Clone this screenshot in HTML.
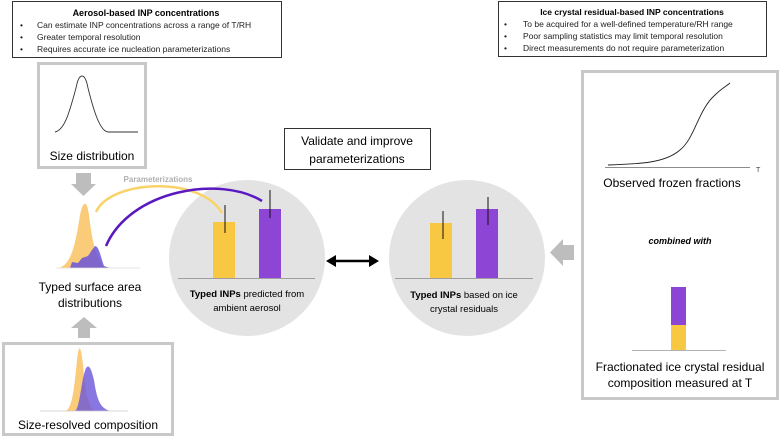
<!DOCTYPE html>
<html><head><meta charset="utf-8"><style>
html,body{margin:0;padding:0;background:#fff}
svg{display:block;font-family:"Liberation Sans",sans-serif}
</style></head><body>
<svg width="780" height="437" viewBox="0 0 780 437" xmlns="http://www.w3.org/2000/svg">
<rect x="12.5" y="1.5" width="269" height="56" fill="#fff" stroke="#333"/>
<text x="146" y="16" font-size="9" font-weight="bold" text-anchor="middle">Aerosol-based INP concentrations</text>
<g font-size="8.5" fill="#222">
<text x="20" y="28">•</text><text x="37" y="28">Can estimate INP concentrations across a range of T/RH</text>
<text x="20" y="40">•</text><text x="37" y="40">Greater temporal resolution</text>
<text x="20" y="52">•</text><text x="37" y="52">Requires accurate ice nucleation parameterizations</text>
</g>
<rect x="498.5" y="1.5" width="268" height="55" fill="#fff" stroke="#333"/>
<text x="632" y="15" font-size="8.5" font-weight="bold" text-anchor="middle">Ice crystal residual-based INP concentrations</text>
<g font-size="8.5" fill="#222">
<text x="504" y="27">•</text><text x="523" y="27">To be acquired for a well-defined temperature/RH range</text>
<text x="504" y="39">•</text><text x="523" y="39">Poor sampling statistics may limit temporal resolution</text>
<text x="504" y="51">•</text><text x="523" y="51">Direct measurements do not require parameterization</text>
</g>
<rect x="38.5" y="63.5" width="107" height="104" fill="#fff" stroke="#c8c8c8" stroke-width="3"/>
<path d="M55 132 C65 130,70 110,76 88 C79 72,85 72,88 88 C94 112,100 131,108 132 L138 132" fill="none" stroke="#333" stroke-width="0.9"/>
<text x="92" y="160" font-size="12" text-anchor="middle">Size distribution</text>
<polygon points="76,173 91,173 91,184 96,184 83.5,196 71,184 76,184" fill="#bdbdbd"/>
<path d="M58 268 C72 266,76 240,80 215 C83 200,87 200,89 215 C92 240,96 262,106 268 Z" fill="#f9c56a" opacity="0.9"/>
<path d="M70 268 L72 262 L78 263 L82 258 L88 256 L92 250 L95 246 C99 246,101 258,104 266 L110 268 Z" fill="#6a55d8" opacity="0.85"/>
<line x1="56" y1="268" x2="140" y2="268" stroke="#ddd" stroke-width="0.8"/>
<text x="90" y="291" font-size="12" text-anchor="middle">Typed surface area</text>
<text x="90" y="307" font-size="12" text-anchor="middle">distributions</text>
<polygon points="78,338 90,338 90,328 97,328 84,317 71,328 78,328" fill="#bdbdbd"/>
<rect x="3.5" y="343.5" width="169" height="91" fill="#fff" stroke="#c8c8c8" stroke-width="3"/>
<path d="M65 411 C72 410,74 390,77 360 C79 342,81 346,83 365 C85 390,88 408,95 411 Z" fill="#f9c56a" opacity="0.9"/>
<path d="M75 411 C80 408,81 380,86 368 C89 364,91 368,94 380 C97 400,100 408,110 411 Z" fill="#6a55d8" opacity="0.8"/>
<line x1="40" y1="411" x2="128" y2="411" stroke="#ccc" stroke-width="0.8"/>
<text x="88" y="429" font-size="12" text-anchor="middle">Size-resolved composition</text>
<circle cx="247" cy="258" r="78" fill="#e3e3e3"/>
<circle cx="467" cy="258" r="78" fill="#e3e3e3"/>
<rect x="213" y="222" width="22" height="56" fill="#f9c843"/>
<rect x="259" y="209" width="22" height="69" fill="#8d45d6"/>
<line x1="178" y1="278.5" x2="315" y2="278.5" stroke="#888" stroke-width="0.8"/>
<line x1="225" y1="205" x2="225" y2="233" stroke="#111"/>
<line x1="270" y1="190" x2="270" y2="218" stroke="#111"/>
<text x="247" y="297" font-size="9.5" text-anchor="middle"><tspan font-weight="bold">Typed INPs</tspan> predicted from</text>
<text x="247" y="311" font-size="9.5" text-anchor="middle">ambient aerosol</text>
<rect x="430" y="223" width="22" height="55" fill="#f9c843"/>
<rect x="476" y="209" width="22" height="69" fill="#8d45d6"/>
<line x1="395" y1="278.5" x2="533" y2="278.5" stroke="#888" stroke-width="0.8"/>
<line x1="443" y1="211" x2="443" y2="239" stroke="#111"/>
<line x1="488" y1="197" x2="488" y2="225" stroke="#111"/>
<text x="464" y="298" font-size="9.5" text-anchor="middle"><tspan font-weight="bold">Typed INPs</tspan> based on ice</text>
<text x="464" y="312" font-size="9.5" text-anchor="middle">crystal residuals</text>
<text x="158" y="182" font-size="8" font-weight="bold" fill="#b0b0b0" text-anchor="middle">Parameterizations</text>
<path d="M96 212 C110 180,200 175,222 213" fill="none" stroke="#f9d36a" stroke-width="2.5"/>
<path d="M106 246 C130 190,220 175,262 201" fill="none" stroke="#5a18c0" stroke-width="2.5"/>
<rect x="284.5" y="128.5" width="146" height="41" fill="#fff" stroke="#333"/>
<text x="357" y="145" font-size="12" text-anchor="middle">Validate and improve</text>
<text x="357" y="163" font-size="12" text-anchor="middle">parameterizations</text>
<line x1="334" y1="261" x2="370" y2="261" stroke="#000" stroke-width="2.5"/>
<polygon points="326,261 336,255 336,267" fill="#000"/>
<polygon points="379,261 369,255 369,267" fill="#000"/>
<polygon points="574,245 563,245 563,239 550,252.5 563,266 563,260 574,260" fill="#bdbdbd"/>
<rect x="582.5" y="71.5" width="195" height="327" fill="#fff" stroke="#c8c8c8" stroke-width="3"/>
<path d="M608 165 C640 164,665 163,680 150 C695 138,698 110,715 95 C722 88,728 85,730 83" fill="none" stroke="#222" stroke-width="0.9"/>
<line x1="605" y1="167.5" x2="750" y2="167.5" stroke="#666" stroke-width="0.8"/>
<text x="756" y="172" font-size="7" fill="#444">T</text>
<text x="672" y="187" font-size="12" text-anchor="middle">Observed frozen fractions</text>
<text x="680" y="244" font-size="9" font-weight="bold" font-style="italic" text-anchor="middle">combined with</text>
<rect x="671" y="287" width="15" height="38" fill="#8d45d6"/>
<rect x="671" y="325" width="15" height="25" fill="#f9c843"/>
<line x1="632" y1="350.5" x2="726" y2="350.5" stroke="#999" stroke-width="0.8"/>
<text x="680" y="371" font-size="12" text-anchor="middle">Fractionated ice crystal residual</text>
<text x="680" y="387" font-size="12" text-anchor="middle">composition measured at T</text>
</svg>
</body></html>
